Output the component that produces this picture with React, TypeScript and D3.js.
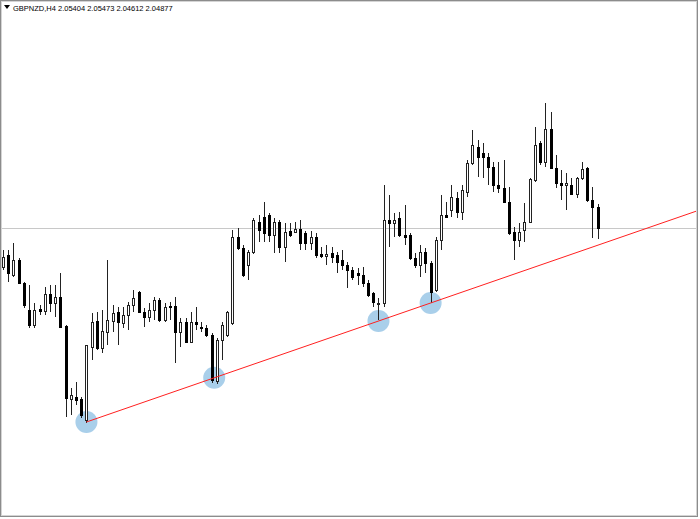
import React from 'react';
import * as d3 from 'd3';

const W = 700;
const H = 519;

const symbolLabel = 'GBPNZD,H4';

const opens = [
  2.03905, 2.04205, 2.03705, 2.0408, 2.03505, 2.0283, 2.02455, 2.02855, 2.02805, 2.0323,
  2.03005, 2.03155, 2.0243, 2.00605, 2.00655, 2.00605, 2.0008, 2.01905, 2.02555, 2.0188,
  2.0228, 2.02555, 2.0278, 2.02505, 2.02705, 2.02955, 2.0328, 2.0278, 2.02655, 2.0283,
  2.0308, 2.0258, 2.0293, 2.0293, 2.0228, 2.0253, 2.0203, 2.0253, 2.02405, 2.0238,
  2.02205, 2.01055, 2.0208, 2.02205, 2.02505, 2.04655, 2.0438, 2.03955, 2.0428, 2.0503,
  2.05155, 2.05205, 2.04705, 2.0503, 2.04405, 2.04805, 2.0478, 2.04855, 2.04755, 2.04505,
  2.04655, 2.0423, 2.0418, 2.04255, 2.04205, 2.0408, 2.03955, 2.0383, 2.03755, 2.03705,
  2.03505, 2.03255, 2.0298, 2.03005, 2.0508, 2.05005, 2.0513, 2.04705, 2.04705, 2.0413,
  2.03955, 2.0428, 2.04005, 2.0333, 2.0458, 2.05205, 2.0533, 2.0563, 2.0528, 2.0578,
  2.06505, 2.06905, 2.06755, 2.06655, 2.06405, 2.05955, 2.0588, 2.0553, 2.0478, 2.0458,
  2.0483, 2.0503, 2.0608, 2.07005, 2.0653, 2.07355, 2.0638, 2.06005, 2.05955, 2.05955,
  2.0573, 2.0613, 2.0638, 2.0558, 2.05404,
];

const highs = [
  2.0433, 2.0433, 2.04505, 2.0413, 2.0353, 2.03455, 2.03005, 2.02955, 2.03405, 2.03455,
  2.03455, 2.03755, 2.02455, 2.0088, 2.0103, 2.00655, 2.01955, 2.02755, 2.0278, 2.0283,
  2.0408, 2.02955, 2.02905, 2.02905, 2.0303, 2.0333, 2.03305, 2.0288, 2.03005, 2.03155,
  2.0313, 2.03005, 2.0303, 2.03155, 2.0263, 2.0263, 2.0278, 2.02905, 2.0253, 2.02455,
  2.02255, 2.0213, 2.0253, 2.02805, 2.0483, 2.0488, 2.04455, 2.0433, 2.0513, 2.05205,
  2.0553, 2.05255, 2.0513, 2.0508, 2.05005, 2.05005, 2.0503, 2.0508, 2.04805, 2.04805,
  2.04755, 2.04405, 2.04455, 2.04405, 2.0428, 2.0433, 2.0403, 2.03905, 2.0388, 2.03905,
  2.0358, 2.0328, 2.0313, 2.05955, 2.05705, 2.05255, 2.0528, 2.05455, 2.04755, 2.04255,
  2.04455, 2.0438, 2.04055, 2.04655, 2.05705, 2.0553, 2.05955, 2.0578, 2.05955, 2.0658,
  2.0733, 2.0708, 2.07005, 2.06755, 2.0653, 2.0653, 2.0658, 2.05905, 2.04905, 2.05005,
  2.05505, 2.0613, 2.07405, 2.07055, 2.08005, 2.0778, 2.06705, 2.0633, 2.06255, 2.0613,
  2.06155, 2.0653, 2.06405, 2.05905, 2.05473,
];

const lows = [
  2.0383, 2.0353, 2.03655, 2.0348, 2.0288, 2.0238, 2.0238, 2.02705, 2.02705, 2.0278,
  2.02655, 2.0238, 2.00155, 2.00205, 2.00455, 2.0013, 2.00005, 2.0158, 2.0183, 2.01755,
  2.01955, 2.0228, 2.01955, 2.0238, 2.0233, 2.0278, 2.02755, 2.02405, 2.0253, 2.0258,
  2.0253, 2.0253, 2.0258, 2.01505, 2.01905, 2.02005, 2.02005, 2.0233, 2.0228, 2.02155,
  2.01005, 2.0098, 2.0158, 2.02155, 2.02455, 2.0433, 2.03655, 2.0358, 2.0423, 2.0453,
  2.0453, 2.0453, 2.04255, 2.04255, 2.0403, 2.04655, 2.04755, 2.0433, 2.0433, 2.0433,
  2.0413, 2.0413, 2.03955, 2.04005, 2.03755, 2.0383, 2.0338, 2.0358, 2.03455, 2.03405,
  2.03155, 2.02905, 2.0258, 2.02905, 2.04405, 2.04655, 2.04655, 2.04455, 2.0408, 2.0388,
  2.03655, 2.03755, 2.03005, 2.0328, 2.0433, 2.0513, 2.05155, 2.0513, 2.0508, 2.05655,
  2.06455, 2.06155, 2.0613, 2.05955, 2.0578, 2.05755, 2.05505, 2.04705, 2.0408, 2.04405,
  2.0453, 2.05005, 2.0603, 2.06455, 2.06405, 2.06355, 2.0588, 2.0558, 2.0533, 2.05705,
  2.0563, 2.0608, 2.0553, 2.0463, 2.04612,
];

const closes = [
  2.04155, 2.03755, 2.0408, 2.03505, 2.02955, 2.02455, 2.0283, 2.02805, 2.0323, 2.03005,
  2.03155, 2.02405, 2.0063, 2.00705, 2.0058, 2.00205, 2.01955, 2.0253, 2.0188, 2.02305,
  2.0258, 2.02755, 2.0253, 2.02705, 2.02955, 2.0313, 2.0278, 2.02655, 2.0283, 2.0308,
  2.0258, 2.02905, 2.02905, 2.0228, 2.0253, 2.0203, 2.0253, 2.0248, 2.0238, 2.02205,
  2.0108, 2.0208, 2.02455, 2.0278, 2.04655, 2.0438, 2.03705, 2.0428, 2.0508, 2.0483,
  2.04755, 2.04705, 2.0503, 2.04405, 2.0478, 2.04705, 2.04855, 2.04505, 2.04505, 2.04655,
  2.04205, 2.0418, 2.0423, 2.04155, 2.0403, 2.03955, 2.0383, 2.03655, 2.03705, 2.03505,
  2.03205, 2.0303, 2.03005, 2.0508, 2.05005, 2.0508, 2.04705, 2.04655, 2.0413, 2.03955,
  2.0428, 2.04005, 2.0328, 2.0458, 2.05205, 2.05155, 2.05655, 2.0528, 2.0583, 2.06505,
  2.06955, 2.06655, 2.06655, 2.06405, 2.05955, 2.0588, 2.0553, 2.04755, 2.0458, 2.0478,
  2.0503, 2.06105, 2.06955, 2.0653, 2.07355, 2.0638, 2.06005, 2.05955, 2.06005, 2.0573,
  2.0613, 2.06355, 2.0558, 2.05405, 2.04877,
];

// Trendline anchors (bar index, price) and touch points marked with circles
const trendIndex = [16, 82];
const trendPrice = [2.0003, 2.03005];
const touchIndex = [16, 40.5, 72, 82];

const bidPrice = closes[closes.length - 1];

export default function App() {
  const n = opens.length;
  const x = d3.scaleLinear().domain([0, n - 1]).range([3, 597.5]);
  const y = d3.scaleLinear().domain([1.97605, 2.1058]).range([H, 0]);

  const slope = (trendPrice[1] - trendPrice[0]) / (trendIndex[1] - trendIndex[0]);
  const trendAt = (i: number) => trendPrice[0] + slope * (i - trendIndex[0]);
  const endIdx = x.invert(697);
  const trendLine = d3.line<[number, number]>()
    .x((d) => x(d[0]))
    .y((d) => y(d[1]));
  const tl = trendLine([
    [trendIndex[0], trendAt(trendIndex[0])],
    [endIdx, trendAt(endIdx)],
  ]);

  const header = `${symbolLabel}  ${opens[n - 1].toFixed(5)} ${highs[n - 1].toFixed(5)} ${lows[n - 1].toFixed(5)} ${closes[n - 1].toFixed(5)}`;

  return (
    <svg
      width={W}
      height={H}
      style={{ position: 'absolute', left: 0, top: 0, background: '#fff' }}
    >
      <rect x={0} y={0} width={W} height={H} fill="#ffffff" />
      {/* bid line */}
      <line
        x1={1}
        x2={697}
        y1={Math.round(y(bidPrice)) + 0.5}
        y2={Math.round(y(bidPrice)) + 0.5}
        stroke="#c8c8c8"
        strokeWidth={1}
      />
      {/* touch circles */}
      {touchIndex.map((ti, k) => (
        <circle
          key={'c' + k}
          cx={x(ti)}
          cy={y(trendAt(ti))}
          r={11}
          fill="#a9cfea"
        />
      ))}
      {/* candles */}
      {opens.map((o, i) => {
        const c = closes[i];
        const cx = Math.round(x(i));
        const bull = c >= o;
        const top = Math.round(y(Math.max(o, c)));
        const bot = Math.round(y(Math.min(o, c)));
        const bh = Math.max(1, bot - top);
        return (
          <g key={i}>
            <line
              x1={cx + 0.5}
              x2={cx + 0.5}
              y1={Math.round(y(highs[i]))}
              y2={Math.round(y(lows[i]))}
              stroke="#222"
              strokeWidth={1}
            />
            {bull ? (
              <rect
                x={cx - 1 + 0.5}
                y={top + 0.5}
                width={2}
                height={bh}
                fill="#fff"
                stroke="#222"
                strokeWidth={1}
              />
            ) : (
              <rect x={cx - 1} y={top} width={3} height={bh + 1} fill="#000" />
            )}
          </g>
        );
      })}
      {/* trendline */}
      <path d={tl || ''} fill="none" stroke="#ff2020" strokeWidth={1} />
      {/* header */}
      <path d="M4,5 L10,5 L7,9 Z" fill="#000" />
      <text
        x={13}
        y={11}
        fontFamily="'Liberation Sans', Arial, sans-serif"
        fontSize={7.5}
        fill="#000"
      >
        {header}
      </text>
      {/* frame */}
      <rect x={0.5} y={0.5} width={697} height={516} fill="none" stroke="#8c8c8c" strokeWidth={1} />
      <rect x={1.5} y={1.5} width={695} height={514} fill="none" stroke="#d4d4d4" strokeWidth={1} />
    </svg>
  );
}
